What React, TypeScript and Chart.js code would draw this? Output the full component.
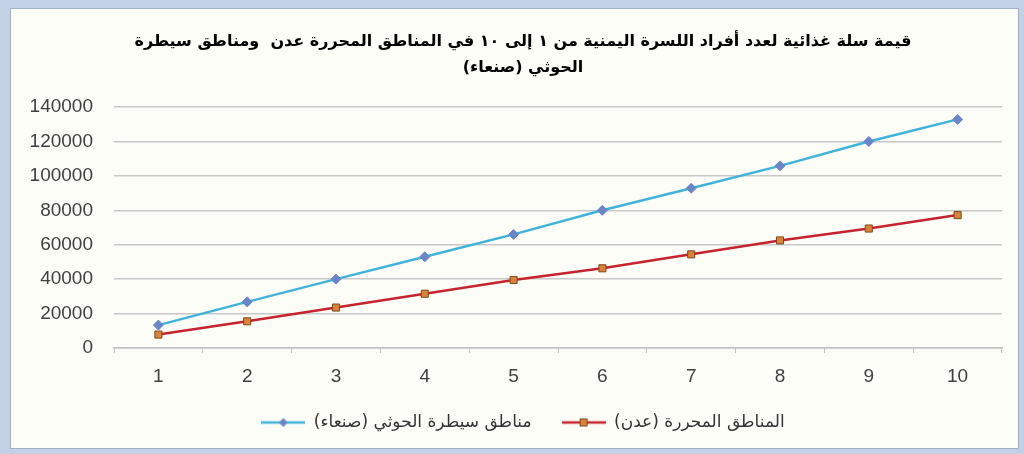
import React, { useEffect, useRef } from "react";
import { Chart, registerables } from "chart.js";

Chart.register(...registerables);

const categories = ["1", "2", "3", "4", "5", "6", "7", "8", "9", "10"];
const sanaaValues = [13300, 26800, 40000, 53000, 66000, 80000, 92800, 105800, 120000, 132800];
const adenValues = [7800, 15500, 23500, 31500, 39500, 46300, 54400, 62500, 69400, 77200];
const titleLines = [
  "قيمة سلة غذائية لعدد أفراد اللسرة اليمنية من ١ إلى ١٠ في المناطق المحررة عدن  ومناطق سيطرة",
  "الحوثي (صنعاء)",
];
const sanaaLabel = "مناطق سيطرة الحوثي (صنعاء)";
const adenLabel = "المناطق المحررة (عدن)";

function legendIcon(lineColor: string, style: "diamond" | "square", fill: string, stroke: string) {
  const c = document.createElement("canvas");
  c.width = 44;
  c.height = 12;
  const ctx = c.getContext("2d")!;
  ctx.strokeStyle = lineColor;
  ctx.lineWidth = 2.5;
  ctx.beginPath();
  ctx.moveTo(0, 6);
  ctx.lineTo(44, 6);
  ctx.stroke();
  ctx.fillStyle = fill;
  ctx.strokeStyle = stroke;
  ctx.lineWidth = 1;
  if (style === "diamond") {
    ctx.beginPath();
    ctx.moveTo(22, 1.5);
    ctx.lineTo(26.5, 6);
    ctx.lineTo(22, 10.5);
    ctx.lineTo(17.5, 6);
    ctx.closePath();
    ctx.fill();
  } else {
    ctx.fillRect(18, 2, 8, 8);
    ctx.strokeRect(18.5, 2.5, 7, 7);
  }
  return c;
}

export default function App() {
  const ref = useRef<HTMLCanvasElement>(null);
  useEffect(() => {
    if (!ref.current) return;
    const blueIcon = legendIcon("#3fb3d8", "diamond", "#6b86c6", "#6b86c6");
    const redIcon = legendIcon("#c5232d", "square", "#d9823a", "#7a4a1c");
    const chart = new Chart(ref.current, {
      type: "line",
      data: {
        labels: categories,
        datasets: [
          {
            label: sanaaLabel,
            data: sanaaValues,
            borderColor: "#3fb3d8",
            backgroundColor: "#6b86c6",
            borderWidth: 2.5,
            pointStyle: "rectRot",
            pointRadius: 5,
            pointBackgroundColor: "#6b86c6",
            pointBorderColor: "#6b86c6",
            pointBorderWidth: 1,
            tension: 0,
          },
          {
            label: adenLabel,
            data: adenValues,
            borderColor: "#c5232d",
            backgroundColor: "#d9823a",
            borderWidth: 2.5,
            pointStyle: "rect",
            pointRadius: 5,
            pointBackgroundColor: "#d9823a",
            pointBorderColor: "#7a4a1c",
            pointBorderWidth: 1,
            tension: 0,
          },
        ],
      },
      options: {
        responsive: false,
        animation: false,
        devicePixelRatio: 1,
        layout: { padding: { top: 29, left: 0, right: 0, bottom: 13 } },
        plugins: {
          tooltip: { enabled: false },
          title: {
            display: true,
            text: titleLines,
            color: "#000000",
            font: { family: "DejaVu Sans", size: 16, weight: "bold", lineHeight: 1.625 },
            padding: { top: 0, bottom: 26 },
          },
          legend: {
            position: "bottom",
            labels: {
              usePointStyle: true,
              pointStyleWidth: 44,
              generateLabels: () => [
                { text: sanaaLabel, pointStyle: blueIcon, fillStyle: "#fff", strokeStyle: "#fff", lineWidth: 0, datasetIndex: 0, fontColor: "#333" } as any,
                { text: adenLabel, pointStyle: redIcon, fillStyle: "#fff", strokeStyle: "#fff", lineWidth: 0, datasetIndex: 1, fontColor: "#333" } as any,
              ],
              color: "#333333",
              font: { family: "DejaVu Sans", size: 17 },
              padding: 30,
              boxHeight: 12,
            },
          },
        },
        scales: {
          x: {
            offset: true,
            grid: {
              display: true,
              drawOnChartArea: false,
              drawTicks: true,
              tickLength: 5,
              offset: true,
              color: "#bfbfbf",
            },
            border: { display: true, color: "#bfbfbf", width: 1.5 },
            ticks: {
              color: "#404040",
              font: { family: "Liberation Sans", size: 19 },
              padding: 12,
            },
            afterFit: (s: any) => {
              s.height = 36;
            },
          },
          y: {
            min: 0,
            max: 140000,
            ticks: {
              stepSize: 20000,
              color: "#404040",
              font: { family: "Liberation Sans", size: 19 },
              padding: 21,
              callback: (v: any) => String(v),
            },
            grid: {
              color: "#c8c8c8",
              lineWidth: 1.5,
              drawTicks: false,
            },
            border: { display: false },
            afterFit: (s: any) => {
              s.width = 114;
            },
          },
          yRight: {
            position: "right",
            display: true,
            grid: { display: false, drawTicks: false },
            border: { display: false },
            ticks: { display: false },
            afterFit: (s: any) => {
              s.width = 44;
            },
          },
        },
      },
    });
    return () => chart.destroy();
  }, []);
  return (
    <div
      style={{
        position: "absolute",
        left: 0,
        top: 0,
        width: 1024,
        height: 454,
        background: "#c3d1e6",
        overflow: "hidden",
      }}
    >
      <div
        style={{
          position: "absolute",
          left: 10,
          top: 8,
          width: 1007,
          height: 439,
          background: "#fdfdf8",
          border: "1px solid #9fb0c9",
        }}
      />
      <canvas ref={ref} width={1046} height={454} style={{ position: "absolute", left: 0, top: 0 }} />
    </div>
  );
}
